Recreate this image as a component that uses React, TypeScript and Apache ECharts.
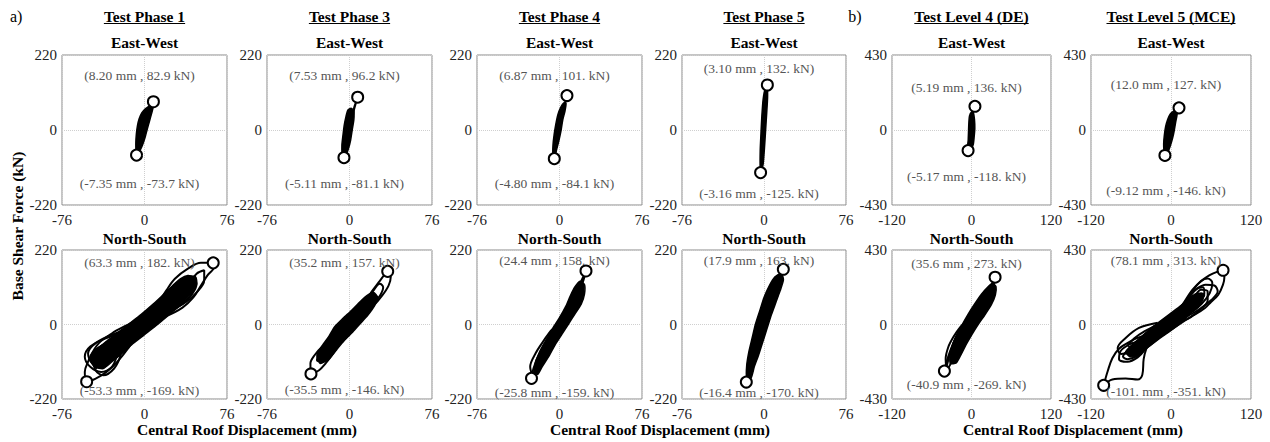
import { useEffect, useRef } from "react";
import * as echarts from "echarts";

type P = [number, number];

// ---------- axis ranges ----------
const phaseX = { min: -76, max: 76, interval: 76 };
const phaseY = { min: -220, max: 220, interval: 220 };
const levelX = { min: -120, max: 120, interval: 120 };
const levelY = { min: -430, max: 430, interval: 430 };

// ---------- titles ----------
const columnTitles = ["Test Phase 1", "Test Phase 3", "Test Phase 4", "Test Phase 5", "Test Level 4 (DE)", "Test Level 5 (MCE)"];
const rowTitles = ["East-West", "North-South"];

// ---------- Test Phase 1, East-West ----------
const ew1Core: P[] = [[-7.5, -66], [-8, -40], [-7.5, -12], [-6.5, 12], [-5, 32], [-2.5, 50], [1, 63], [5, 72], [7.5, 80], [8, 68], [6.5, 48], [4.5, 25], [2.5, 2], [0.5, -22], [-2, -45], [-5, -64]];
const ew1Loops: P[][] = [
  [[-7.35, -73.7], [-5.5, -55], [-3, -28], [-0.5, 0], [2, 25], [4.5, 50], [6.8, 70], [8.2, 82.9], [7.5, 74], [5.5, 55], [3, 30], [1, 5], [-1.5, -25], [-4.5, -52], [-7.35, -73.7]],
];
const ew1Peaks: P[] = [[8.2, 82.9], [-7.35, -73.7]];
const ew1Labels = ["(8.20 mm , 82.9 kN)", "(-7.35 mm , -73.7 kN)"];

// ---------- Test Phase 3, East-West ----------
const ew3Core: P[] = [[-6.5, -74], [-7, -45], [-6, -15], [-4.8, 15], [-3.2, 40], [-1.5, 58], [1.5, 64], [4, 56], [4, 30], [2.5, 0], [1, -30], [-1, -55], [-3.5, -74]];
const ew3Loops: P[][] = [
  [[-5.11, -81.1], [-3.5, -60], [-1.5, -25], [0.5, 10], [2.5, 45], [4.5, 70], [7.53, 96.2], [6.5, 85], [4.5, 62], [2.5, 30], [0.5, -5], [-2, -40], [-5.11, -81.1]],
];
const ew3Peaks: P[] = [[7.53, 96.2], [-5.11, -81.1]];
const ew3Labels = ["(7.53 mm , 96.2 kN)", "(-5.11 mm , -81.1 kN)"];

// ---------- Test Phase 4, East-West ----------
const ew4Core: P[] = [[-6, -72], [-6, -45], [-5, -15], [-3.5, 15], [-1.5, 45], [1, 66], [4, 80], [6, 78], [5, 55], [3, 30], [1.5, 0], [-0.5, -30], [-2.5, -55], [-4, -72]];
const ew4Loops: P[][] = [
  [[-4.8, -84.1], [-3.5, -60], [-1.5, -25], [0.5, 10], [2.5, 45], [5, 80], [6.87, 101], [6, 88], [4, 62], [2, 30], [0, -5], [-2.5, -45], [-4.8, -84.1]],
];
const ew4Peaks: P[] = [[6.87, 101], [-4.8, -84.1]];
const ew4Labels = ["(6.87 mm , 101. kN)", "(-4.80 mm , -84.1 kN)"];

// ---------- Test Phase 5, East-West ----------
const ew5Core: P[] = [[-3.5, -110], [-3.5, -60], [-2.8, -10], [-2, 40], [-0.8, 90], [1, 120], [3, 126], [3.3, 95], [2.5, 50], [1.5, 0], [0.5, -50], [-0.8, -100], [-2.2, -115]];
const ew5Loops: P[][] = [
  [[-3.16, -125], [-2, -80], [-1, -30], [0.2, 20], [1.2, 70], [2.2, 110], [3.1, 132], [2.6, 115], [1.8, 70], [0.8, 20], [-0.2, -30], [-1.4, -80], [-3.16, -125]],
];
const ew5Peaks: P[] = [[3.1, 132], [-3.16, -125]];
const ew5Labels = ["(3.10 mm , 132. kN)", "(-3.16 mm , -125. kN)"];

// ---------- Test Level 4 (DE), East-West ----------
const ewl4Core: P[] = [[-6, -105], [-5, -60], [-4.5, -10], [-4, 40], [-3, 80], [0, 102], [3, 96], [4.5, 60], [5, 10], [4, -40], [2.5, -85], [-1.5, -112]];
const ewl4Loops: P[][] = [
  [[-5.17, -118], [-3, -100], [-2, -50], [-1.5, 0], [-1, 50], [0, 90], [1.5, 110], [3.5, 125], [5.19, 136], [3, 115], [2.5, 80], [2.8, 30], [2, -30], [0.5, -80], [-2, -105], [-5.17, -118]],
];
const ewl4Peaks: P[] = [[5.19, 136], [-5.17, -118]];
const ewl4Labels = ["(5.19 mm , 136. kN)", "(-5.17 mm , -118. kN)"];

// ---------- Test Level 5 (MCE), East-West ----------
const ewl5Core: P[] = [[-10, -125], [-11, -80], [-10, -30], [-8, 20], [-5, 60], [-1, 92], [4, 108], [9, 110], [9, 85], [7, 45], [5, 0], [2.5, -45], [-1, -90], [-5, -128]];
const ewl5Loops: P[][] = [
  [[-9.12, -146], [-7, -110], [-4.5, -60], [-2, -10], [1, 40], [4.5, 80], [8, 105], [12, 127], [10, 110], [7, 75], [4.5, 30], [2, -20], [-1.5, -70], [-5, -115], [-9.12, -146]],
];
const ewl5Peaks: P[] = [[12.0, 127], [-9.12, -146]];
const ewl5Labels = ["(12.0 mm , 127. kN)", "(-9.12 mm , -146. kN)"];

// ---------- Test Phase 1, North-South ----------
const ns1Core: P[] = [[-46, -125], [-50, -105], [-46, -80], [-36, -52], [-25, -25], [-15, 0], [-3, 30], [8, 60], [18, 90], [26, 115], [33, 135], [40, 145], [46, 140], [48, 120], [44, 95], [36, 65], [25, 35], [12, 0], [0, -30], [-12, -60], [-22, -88], [-30, -110], [-38, -130]];
const ns1Loops: P[][] = [
  [[0, 10], [10, 50], [20, 100], [28, 135], [40, 165], [52, 182], [63.3, 182], [64, 170], [58, 145], [52, 115], [45, 80], [35, 50], [20, 25], [5, 10], [0, 10]],
  [[5, 20], [18, 75], [30, 120], [40, 140], [46, 142], [48, 120], [44, 90], [35, 60], [20, 35], [5, 20]],
  [[0, 5], [15, 60], [28, 110], [36, 128], [42, 125], [40, 100], [30, 65], [15, 30], [0, 5]],
  [[-5, -5], [-20, -30], [-35, -55], [-47, -80], [-52, -110], [-55, -140], [-53.3, -169], [-45, -160], [-35, -140], [-25, -110], [-15, -70], [-8, -35], [-5, -5]],
  [[-15, -20], [-35, -40], [-50, -65], [-55, -95], [-50, -125], [-40, -140], [-30, -125], [-25, -90], [-20, -55], [-15, -20]],
  [[0, 0], [-20, -35], [-35, -70], [-40, -95], [-35, -110], [-25, -95], [-12, -55], [0, 0]],
  [[-45, -130], [-30, -85], [-15, -40], [0, 5], [15, 50], [30, 100], [40, 130], [35, 100], [20, 55], [5, 15], [-10, -30], [-25, -75], [-45, -130]],
  [[-50, -95], [-42, -55], [-28, -22], [-12, 5], [5, 35], [20, 75], [32, 110], [42, 135], [47, 125], [40, 90], [28, 50], [10, 10], [-8, -25], [-25, -60], [-40, -95], [-50, -95]],
  [[-10, -10], [-30, -30], [-45, -55], [-52, -85], [-48, -115], [-38, -120], [-30, -95], [-20, -55], [-10, -10]],
  [[-20, -40], [-38, -60], [-48, -90], [-45, -135], [-38, -150], [-28, -130], [-22, -90], [-20, -40]],
  [[10, 30], [25, 75], [38, 110], [48, 150], [55, 160], [55, 130], [48, 95], [35, 60], [10, 30]],
];
const ns1Peaks: P[] = [[63.3, 182], [-53.3, -169]];
const ns1Labels = ["(63.3 mm , 182. kN)", "(-53.3 mm , -169. kN)"];

// ---------- Test Phase 3, North-South ----------
const ns3Core: P[] = [[-27, -115], [-30, -90], [-25, -62], [-19, -35], [-14, -8], [-6, 18], [2, 42], [9, 65], [16, 85], [22, 95], [26, 80], [23, 55], [17, 28], [10, 3], [3, -22], [-5, -48], [-12, -75], [-19, -102]];
const ns3Loops: P[][] = [
  [[5, 20], [12, 55], [20, 95], [27, 125], [33, 150], [35.2, 157], [38, 140], [36, 115], [30, 85], [22, 55], [12, 30], [5, 20]],
  [[8, 30], [16, 70], [22, 100], [28, 120], [31, 110], [28, 85], [20, 55], [8, 30]],
  [[-5, -15], [-15, -40], [-25, -65], [-32, -90], [-36, -115], [-35.5, -146], [-28, -135], [-22, -115], [-15, -85], [-10, -55], [-5, -15]],
  [[-8, -30], [-20, -60], [-28, -85], [-30, -105], [-25, -110], [-18, -85], [-12, -55], [-8, -30]],
  [[-28, -110], [-15, -60], [0, -5], [12, 45], [22, 90], [18, 60], [5, 10], [-10, -45], [-28, -110]],
];
const ns3Peaks: P[] = [[35.2, 157], [-35.5, -146]];
const ns3Labels = ["(35.2 mm , 157. kN)", "(-35.5 mm , -146. kN)"];

// ---------- Test Phase 4, North-South ----------
const ns4Core: P[] = [[-23, -142], [-22, -110], [-17, -75], [-11, -40], [-6, -10], [0, 20], [6, 55], [10, 85], [14, 110], [19, 128], [23, 118], [23, 90], [20, 60], [14, 30], [8, 0], [2, -30], [-4, -60], [-10, -95], [-16, -125], [-20, -147]];
const ns4Loops: P[][] = [
  [[-25.8, -159], [-24, -130], [-18, -80], [-10, -35], [-3, 0], [5, 35], [12, 75], [18, 115], [24.4, 158], [22, 130], [18, 95], [12, 55], [5, 15], [-3, -30], [-12, -85], [-19, -130], [-25.8, -159]],
  [[-25, -150], [-27, -125], [-22, -85], [-15, -50], [-7, -15], [-3, -10], [-10, -45], [-17, -90], [-22, -130], [-25, -150]],
];
const ns4Peaks: P[] = [[24.4, 158], [-25.8, -159]];
const ns4Labels = ["(24.4 mm , 158. kN)", "(-25.8 mm , -159. kN)"];

// ---------- Test Phase 5, North-South ----------
const ns5Core: P[] = [[-16, -158], [-16, -120], [-14, -80], [-11, -40], [-8, 0], [-4, 40], [0, 80], [5, 115], [10, 140], [16, 152], [18, 132], [15, 100], [11, 65], [7, 30], [3, -10], [-1, -50], [-5, -90], [-9, -125], [-12, -158]];
const ns5Loops: P[][] = [
  [[-16.4, -170], [-14, -130], [-10, -80], [-5, -20], [0, 30], [6, 85], [12, 130], [17.9, 163], [16, 140], [12, 105], [7, 60], [2, 10], [-3, -40], [-8, -95], [-12, -140], [-16.4, -170]],
];
const ns5Peaks: P[] = [[17.9, 163], [-16.4, -170]];
const ns5Labels = ["(17.9 mm , 163. kN)", "(-16.4 mm , -170. kN)"];

// ---------- Test Level 4 (DE), North-South ----------
const nsl4Core: P[] = [[-32, -225], [-32, -170], [-28, -110], [-22, -55], [-14, 0], [-5, 60], [5, 120], [15, 175], [25, 218], [32, 238], [37, 218], [36, 170], [30, 115], [20, 55], [10, 0], [1, -55], [-8, -115], [-16, -175], [-23, -222]];
const nsl4Loops: P[][] = [
  [[-40.9, -269], [-38, -220], [-32, -150], [-24, -80], [-15, -20], [-5, 30], [8, 100], [20, 170], [30, 230], [35.6, 273], [34, 240], [30, 190], [22, 130], [12, 70], [2, 10], [-8, -50], [-18, -120], [-28, -200], [-35, -250], [-40.9, -269]],
  [[-38, -250], [-39, -200], [-35, -130], [-27, -70], [-17, -15], [-10, 10], [-14, -20], [-24, -80], [-31, -150], [-36, -220], [-38, -250]],
];
const nsl4Peaks: P[] = [[35.6, 273], [-40.9, -269]];
const nsl4Labels = ["(35.6 mm , 273. kN)", "(-40.9 mm , -269. kN)"];

// ---------- Test Level 5 (MCE), North-South ----------
const nsl5Core: P[] = [[-62, -185], [-68, -160], [-62, -130], [-52, -95], [-40, -55], [-28, -15], [-16, 20], [-2, 60], [12, 100], [23, 135], [32, 165], [40, 180], [47, 172], [48, 145], [42, 110], [32, 75], [22, 35], [12, 0], [-2, -40], [-17, -80], [-31, -120], [-43, -155], [-52, -185]];
const nsl5Loops: P[][] = [
  [[-25, -60], [-45, -70], [-62, -100], [-78, -140], [-88, -195], [-95, -270], [-101, -351], [-88, -318], [-68, -312], [-50, -318], [-43, -290], [-41, -200], [-37, -140], [-31, -95], [-25, -60]],
  [[-20, 10], [-48, -20], [-68, -78], [-80, -136], [-75, -170], [-55, -150], [-35, -90], [-20, 10]],
  [[0, 20], [15, 90], [28, 170], [42, 240], [58, 285], [70, 305], [78.1, 313], [80, 270], [78, 230], [71, 172], [60, 130], [51, 95], [35, 55], [15, 20], [0, 20]],
  [[5, 40], [20, 130], [32, 200], [45, 250], [55, 265], [62, 240], [58, 180], [46, 120], [30, 70], [5, 40]],
  [[-5, 10], [10, 80], [25, 150], [38, 205], [48, 215], [50, 180], [42, 130], [25, 75], [-5, 10]],
  [[-10, -20], [-30, -60], [-50, -110], [-65, -150], [-72, -185], [-65, -200], [-50, -180], [-38, -140], [-25, -90], [-10, -20]],
  [[0, 0], [-20, -50], [-40, -100], [-58, -140], [-60, -165], [-48, -160], [-30, -115], [-12, -55], [0, 0]],
  [[-70, -170], [-55, -120], [-35, -70], [-15, -20], [5, 40], [25, 110], [45, 180], [50, 170], [35, 110], [15, 45], [-5, -10], [-25, -65], [-50, -130], [-70, -170]],
  [[-40, -60], [-20, -20], [0, 25], [20, 90], [35, 160], [45, 200], [55, 190], [55, 140], [42, 80], [20, 20], [0, -30], [-20, -80], [-40, -120], [-55, -130], [-40, -60]],
  [[-65, -120], [-55, -80], [-40, -40], [-20, 0], [0, 40], [15, 80], [5, 30], [-15, -30], [-35, -90], [-55, -140], [-65, -120]],
  [[10, 40], [25, 120], [30, 170], [40, 210], [52, 230], [65, 225], [70, 190], [60, 140], [45, 95], [25, 50], [10, 40]],
  [[-30, -30], [-10, 20], [10, 70], [30, 140], [40, 170], [45, 150], [30, 90], [10, 30], [-10, -25], [-30, -75], [-45, -90], [-30, -30]],
  [[-60, -110], [-75, -150], [-78, -200], [-65, -215], [-50, -190], [-40, -150], [-35, -110], [-45, -100], [-60, -110]],
];
const nsl5Peaks: P[] = [[78.1, 313], [-101, -351]];
const nsl5Labels = ["(78.1 mm , 313. kN)", "(-101. mm , -351. kN)"];

// ---------- layout (pixels) ----------
const colLefts = [62, 267, 477, 682, 892, 1091];
const colWidths = [165, 165, 165, 164, 159, 160];
const rowTops = [55, 250];
const rowHeights = [150, 149];
// annotation vertical offsets from the panel top [upper, lower]
const labelOffsets = [
  [20, 128], [20, 128], [20, 128], [13, 138], [32, 121], [29, 135],
  [12, 140], [12, 139], [10, 142], [10, 142], [13, 134], [10, 141],
];

const FONT = "'Liberation Serif', 'Times New Roman', serif";

function textWidth(text: string, font: string): number {
  const ctx = document.createElement("canvas").getContext("2d");
  if (!ctx) return text.length * 8;
  ctx.font = font;
  return ctx.measureText(text).width;
}

export default function App() {
  const ref = useRef<HTMLDivElement>(null);

  useEffect(() => {
    document.body.style.margin = "0";
    if (!ref.current) return;
    const chart = echarts.init(ref.current, null, { renderer: "svg" });

    const panels = [
      { core: ew1Core, loops: ew1Loops, peaks: ew1Peaks, labels: ew1Labels, level: false },
      { core: ew3Core, loops: ew3Loops, peaks: ew3Peaks, labels: ew3Labels, level: false },
      { core: ew4Core, loops: ew4Loops, peaks: ew4Peaks, labels: ew4Labels, level: false },
      { core: ew5Core, loops: ew5Loops, peaks: ew5Peaks, labels: ew5Labels, level: false },
      { core: ewl4Core, loops: ewl4Loops, peaks: ewl4Peaks, labels: ewl4Labels, level: true },
      { core: ewl5Core, loops: ewl5Loops, peaks: ewl5Peaks, labels: ewl5Labels, level: true },
      { core: ns1Core, loops: ns1Loops, peaks: ns1Peaks, labels: ns1Labels, level: false },
      { core: ns3Core, loops: ns3Loops, peaks: ns3Peaks, labels: ns3Labels, level: false },
      { core: ns4Core, loops: ns4Loops, peaks: ns4Peaks, labels: ns4Labels, level: false },
      { core: ns5Core, loops: ns5Loops, peaks: ns5Peaks, labels: ns5Labels, level: false },
      { core: nsl4Core, loops: nsl4Loops, peaks: nsl4Peaks, labels: nsl4Labels, level: true },
      { core: nsl5Core, loops: nsl5Loops, peaks: nsl5Peaks, labels: nsl5Labels, level: true },
    ];

    const geo = panels.map((_, i) => {
      const c = i % 6;
      const r = Math.floor(i / 6);
      return { left: colLefts[c], top: rowTops[r], width: colWidths[c], height: rowHeights[r] };
    });

    const grids = geo.map((g) => ({
      ...g,
      show: true,
      borderColor: "#8a8a8a",
      borderWidth: 1,
      backgroundColor: "transparent",
    }));

    const axisLabel = { fontFamily: FONT, fontSize: 15, color: "#222", showMinLabel: true, showMaxLabel: true };
    const splitLine = { show: true, lineStyle: { color: "#cfcfcf", width: 1, type: "dotted" as const } };

    const xAxes = panels.map((p, i) => ({
      type: "value" as const,
      gridIndex: i,
      ...(p.level ? levelX : phaseX),
      axisLine: { show: false },
      axisTick: { show: false },
      splitLine,
      axisLabel: { ...axisLabel, margin: 7 },
    }));
    const yAxes = panels.map((p, i) => ({
      type: "value" as const,
      gridIndex: i,
      ...(p.level ? levelY : phaseY),
      axisLine: { show: false },
      axisTick: { show: false },
      splitLine,
      axisLabel: { ...axisLabel, margin: 5 },
    }));

    const series: any[] = [];
    panels.forEach((p, i) => {
      const core = p.core;
      const lw = i >= 6 ? 2 : 1.7;
      series.push({
        type: "custom",
        xAxisIndex: i,
        yAxisIndex: i,
        silent: true,
        z: 2,
        data: core,
        renderItem: (params: any, api: any) => {
          if (params.dataIndex !== 0) return null;
          const pts = core.map((pt) => api.coord(pt));
          return {
            type: "polygon",
            shape: { points: pts, smooth: 0.2 },
            style: { fill: "#000", stroke: "#000", lineWidth: 1.5 },
          };
        },
      });
      p.loops.forEach((loop) => {
        series.push({
          type: "line",
          xAxisIndex: i,
          yAxisIndex: i,
          data: loop,
          showSymbol: false,
          smooth: 0.35,
          silent: true,
          z: 3,
          lineStyle: { color: "#000", width: lw },
        });
      });
      series.push({
        type: "scatter",
        xAxisIndex: i,
        yAxisIndex: i,
        data: p.peaks,
        symbol: "circle",
        symbolSize: 11,
        silent: true,
        z: 5,
        itemStyle: { color: "#fff", borderColor: "#000", borderWidth: 2, opacity: 1 },
      });
    });

    const graphics: any[] = [];
    // panel annotations
    panels.forEach((p, i) => {
      const g = geo[i];
      const cx = g.left + g.width / 2 - 5;
      p.labels.forEach((t, k) => {
        graphics.push({
          type: "text",
          x: cx,
          y: g.top + labelOffsets[i][k],
          z: 10,
          style: { text: t, font: `13.5px ${FONT}`, fill: "#555", align: "center", verticalAlign: "middle" },
        });
      });
    });
    // column titles (bold, underlined) and row titles
    const titleFont = `bold 15.5px ${FONT}`;
    columnTitles.forEach((t, c) => {
      const cx = colLefts[c] + colWidths[c] / 2;
      const w = textWidth(t, titleFont);
      graphics.push({
        type: "text",
        x: cx,
        y: 16,
        style: { text: t, font: titleFont, fill: "#000", align: "center", verticalAlign: "middle" },
      });
      graphics.push({
        type: "line",
        shape: { x1: cx - w / 2, y1: 23.5, x2: cx + w / 2, y2: 23.5 },
        style: { stroke: "#000", lineWidth: 1.2 },
      });
      rowTitles.forEach((rt, r) => {
        graphics.push({
          type: "text",
          x: cx,
          y: r === 0 ? 42 : 238,
          style: { text: rt, font: titleFont, fill: "#000", align: "center", verticalAlign: "middle" },
        });
      });
    });
    // section marks
    graphics.push({ type: "text", x: 10, y: 16, style: { text: "a)", font: `16px ${FONT}`, fill: "#000", align: "left", verticalAlign: "middle" } });
    graphics.push({ type: "text", x: 855, y: 16, style: { text: "b)", font: `16px ${FONT}`, fill: "#000", align: "center", verticalAlign: "middle" } });
    // axis titles
    const xTitleCenters = [247, 660, 1073];
    xTitleCenters.forEach((x) => {
      graphics.push({
        type: "text",
        x,
        y: 429,
        style: { text: "Central Roof Displacement (mm)", font: titleFont, fill: "#000", align: "center", verticalAlign: "middle" },
      });
    });
    graphics.push({
      type: "text",
      x: 17,
      y: 226,
      rotation: Math.PI / 2,
      style: { text: "Base Shear Force (kN)", font: titleFont, fill: "#000", align: "center", verticalAlign: "middle" },
    });

    chart.setOption({
      animation: false,
      backgroundColor: "#fff",
      grid: grids,
      xAxis: xAxes,
      yAxis: yAxes,
      series,
      graphic: { elements: graphics },
    });

    return () => chart.dispose();
  }, []);

  return <div ref={ref} style={{ width: 1270, height: 442 }} />;
}
